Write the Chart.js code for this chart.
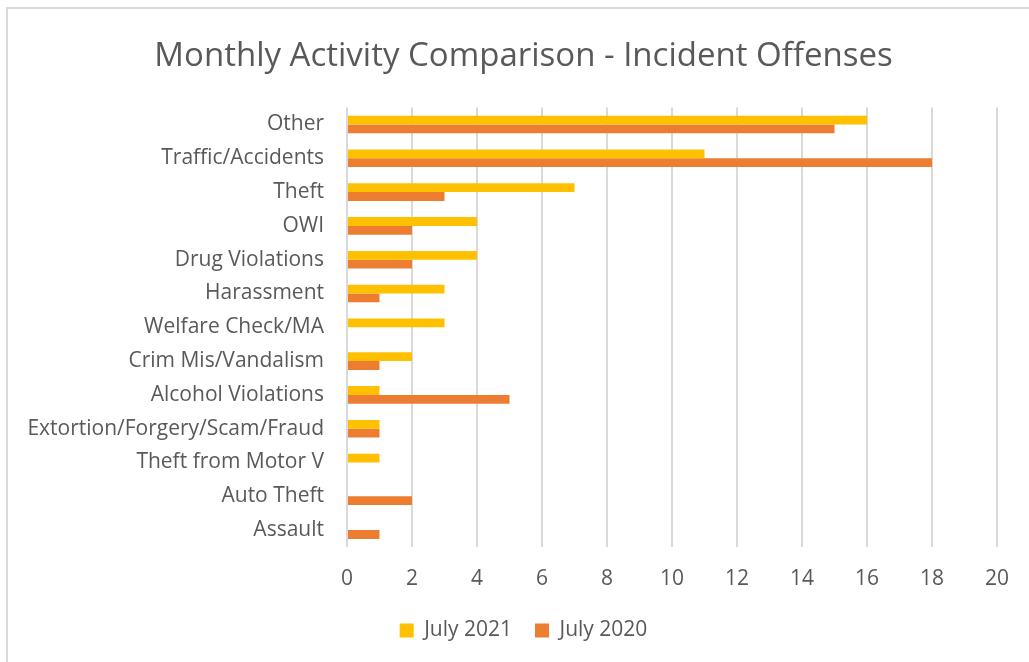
<!DOCTYPE html>
<html>
<head>
<meta charset="utf-8">
<script src="https://cdn.jsdelivr.net/npm/chart.js@4"></script>
<style>
  html, body { margin: 0; padding: 0; background: #fff; }
  #wrap { position: relative; width: 1029px; height: 662px; overflow: hidden; }
  #frame { position: absolute; left: 6px; top: 7px; width: 1100px; height: 800px; border: 2px solid #d9d9d9; box-sizing: border-box; }
  canvas { position: absolute; left: 0; top: 0; }
</style>
</head>
<body>
<div id="wrap">
  <div id="frame"></div>
  <canvas id="chart" width="1029" height="662"></canvas>
</div>
<script>
var categories = ['Other', 'Traffic/Accidents', 'Theft', 'OWI', 'Drug Violations', 'Harassment',
  'Welfare Check/MA', 'Crim Mis/Vandalism', 'Alcohol Violations', 'Extortion/Forgery/Scam/Fraud',
  'Theft from Motor V', 'Auto Theft', 'Assault'];
var july2021 = [16, 11, 7, 4, 4, 3, 3, 2, 1, 1, 1, 0, 0];
var july2020 = [15, 18, 3, 2, 2, 1, 0, 1, 5, 1, 0, 2, 1];
var seriesNames = ['July 2021', 'July 2020'];

var txt = '#595959';
var fam = '"Open Sans", sans-serif';

var ctx = document.getElementById('chart').getContext('2d');
var chart = new Chart(ctx, {
  type: 'bar',
  data: {
    labels: categories,
    datasets: [
      { label: seriesNames[0], data: july2021, backgroundColor: '#FFC000', borderWidth: 0 },
      { label: seriesNames[1], data: july2020, backgroundColor: '#ED7D31', borderWidth: 0 }
    ]
  },
  options: {
    indexAxis: 'y',
    responsive: false,
    animation: false,
    // left padding pushes title/legend centre right, y axis width brings plot back to x=347
    layout: { padding: { left: 50, right: 32, top: 0, bottom: 11 } },
    datasets: { bar: { categoryPercentage: 0.52, barPercentage: 1 } },
    plugins: {
      title: {
        display: true,
        text: 'Monthly Activity Comparison - Incident Offenses',
        color: txt,
        font: { family: fam, size: 33, weight: 'normal' },
        padding: { top: 37, bottom: 31 }
      },
      legend: {
        position: 'bottom',
        labels: {
          color: txt,
          font: { family: fam, size: 21 },
          boxWidth: 14,
          boxHeight: 14,
          padding: 23
        }
      },
      tooltip: { enabled: false }
    },
    scales: {
      x: {
        min: 0,
        max: 20,
        ticks: { stepSize: 2, color: txt, font: { family: fam, size: 21 }, padding: 19 },
        grid: { color: '#d9d9d9', lineWidth: 2, drawTicks: false },
        border: { display: false },
        afterFit: function (s) { s.height = 50; }
      },
      y: {
        ticks: { color: txt, font: { family: fam, size: 21 }, padding: 15 },
        grid: { display: false },
        border: { display: false },
        afterFit: function (s) {
          s.width = 297;
          // long label runs past the axis box, so don't clip it
          s._computeLabelArea = function () { return undefined; };
        }
      }
    }
  }
});
</script>
</body>
</html>
